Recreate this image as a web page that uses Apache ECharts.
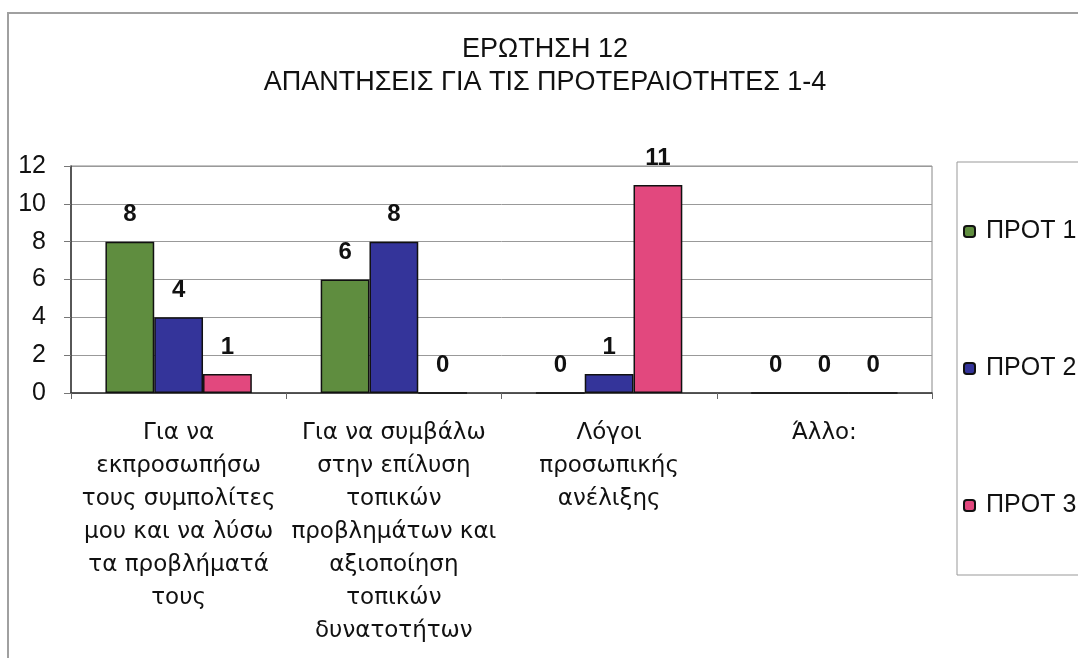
<!DOCTYPE html>
<html>
<head>
<meta charset="utf-8">
<script src="https://cdn.jsdelivr.net/npm/echarts@6/dist/echarts.min.js"></script>
<style>
html,body{margin:0;padding:0;background:#fff;}
#chart{width:1078px;height:658px;}
</style>
</head>
<body>
<div id="chart"></div>
<script>
const titleLines = ['ΕΡΩΤΗΣΗ 12', 'ΑΠΑΝΤΗΣΕΙΣ ΓΙΑ ΤΙΣ ΠΡΟΤΕΡΑΙΟΤΗΤΕΣ 1-4'];
const categories = [
  'Για να\nεκπροσωπήσω\nτους συμπολίτες\nμου και να λύσω\nτα προβλήματά\nτους',
  'Για να συμβάλω\nστην επίλυση\nτοπικών\nπροβλημάτων και\nαξιοποίηση\nτοπικών\nδυνατοτήτων',
  'Λόγοι\nπροσωπικής\nανέλιξης',
  'Άλλο:'
];
const seriesNames = ['ΠΡΟΤ 1', 'ΠΡΟΤ 2', 'ΠΡΟΤ 3'];
const prot1 = [8, 6, 0, 0];
const prot2 = [4, 8, 1, 0];
const prot3 = [1, 0, 11, 0];
const yTicks = { min: 0, max: 12, interval: 2 };

const colors = ['#5f8d3f', '#34349a', '#e2487e'];
const font = 'Liberation Sans, Arial, sans-serif';
const wideFont = 'DejaVu Sans, Verdana, sans-serif';
const seriesData = [prot1, prot2, prot3];

const chart = echarts.init(document.getElementById('chart'), null, { renderer: 'canvas' });
chart.setOption({
  backgroundColor: '#ffffff',
  animation: false,
  title: {
    text: titleLines.join('\n'),
    left: 540,
    textAlign: 'center',
    top: 28,
    textStyle: { fontFamily: font, fontSize: 27, fontWeight: 'normal', color: '#111', lineHeight: 33 }
  },
  graphic: [{
    type: 'polyline',
    shape: { points: [[8, 658], [8, 13], [1078, 13]] },
    style: { stroke: '#a0a0a0', lineWidth: 2, fill: null }
  }],
  legend: {
    orient: 'vertical',
    left: 957,
    top: 162,
    padding: [57, 80, 57, 6],
    itemGap: 112,
    itemWidth: 11,
    itemHeight: 11,
    borderColor: '#999',
    borderWidth: 1,
    textStyle: { fontFamily: font, fontSize: 25, color: '#111', padding: [0, 0, 0, 6] },
    data: seriesNames
  },
  grid: {
    left: 71, right: 146, top: 166, height: 227,
    show: true, borderColor: '#888', borderWidth: 1, backgroundColor: 'transparent'
  },
  xAxis: {
    type: 'category',
    data: categories,
    axisLine: { lineStyle: { color: '#333', width: 1.5 } },
    axisTick: { show: true, length: 6, lineStyle: { color: '#666' } },
    axisLabel: { interval: 0, fontFamily: wideFont, fontSize: 23, color: '#111', lineHeight: 33, margin: 24 }
  },
  yAxis: {
    type: 'value',
    min: yTicks.min, max: yTicks.max, interval: yTicks.interval,
    axisLine: { show: true, lineStyle: { color: '#333', width: 1.5 } },
    axisTick: { show: true, length: 7, lineStyle: { color: '#777' } },
    splitLine: { lineStyle: { color: '#999', width: 1 } },
    axisLabel: { fontFamily: font, fontSize: 25, color: '#111', margin: 25 }
  },
  series: seriesNames.map((name, i) => ({
    name,
    type: 'bar',
    data: seriesData[i],
    barGap: '0%',
    barCategoryGap: '32%',
    itemStyle: { color: colors[i], borderColor: '#111', borderWidth: 1.5 },
    label: {
      show: true, position: 'top', distance: 15,
      fontFamily: font, fontSize: 24, fontWeight: 'bold', color: '#111'
    }
  }))
});
</script>
</body>
</html>
